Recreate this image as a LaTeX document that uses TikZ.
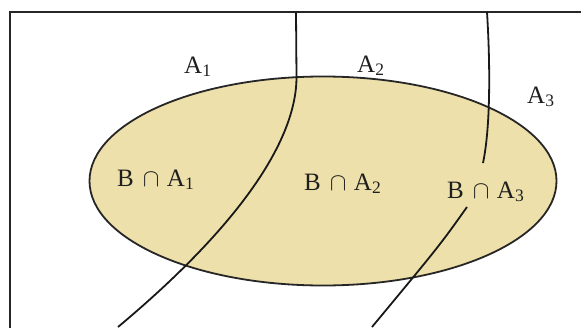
\documentclass[tikz,border=0pt]{standalone}
\usepackage{fontspec}
\setmainfont{Liberation Serif}
\definecolor{ellfill}{RGB}{237,224,170}
\newcommand{\BcapA}[1]{B\hspace{0.36em}$\cap$\hspace{0.3em}A\textsubscript{#1}}
\begin{document}
\begin{tikzpicture}[x=1pt,y=-1pt,
  frame/.style={line width=2pt, black!85},
  curve/.style={line width=1.8pt, black!90},
  lbl/.style={inner sep=0pt, anchor=base west, font=\fontsize{25}{28}\selectfont, text=black!88}]
\useasboundingbox (0,0) rectangle (581,327);
\fill[white] (0,0) rectangle (581,327);
% frame (cropped rectangle)
\draw[frame] (10,335) -- (10,12) -- (590,12);
% set B
\path[fill=ellfill, draw=black!85, line width=1.8pt] (323,181) ellipse [x radius=233.5, y radius=104.5];
% partition curves
\coordinate (c1t) at (296,12);
\coordinate (c1m) at (296.5,77);
\coordinate (c1b) at (118,327);
\draw[curve] (c1t) -- (c1m) .. controls (296.5,140) and (240,225) .. (c1b);
\coordinate (c2t) at (487,12);
\coordinate (c2m) at (483,163);
\draw[curve] (c2t) .. controls (490,60) and (491,125) .. (c2m);
\coordinate (c3t) at (467,207);
\coordinate (c3b) at (372,327);
\draw[curve] (c3t) .. controls (440,245) .. (c3b);
% labels
\node[lbl] (a1) at (184,73) {A\textsubscript{1}};
\node[lbl] (a2) at (357,72) {A\textsubscript{2}};
\node[lbl] (a3) at (527,103) {A\textsubscript{3}};
\node[lbl] (b1) at (117,186) {\BcapA{1}};
\node[lbl] (b2) at (304,190) {\BcapA{2}};
\node[lbl] (b3) at (447,198) {\BcapA{3}};
\end{tikzpicture}
\end{document}
